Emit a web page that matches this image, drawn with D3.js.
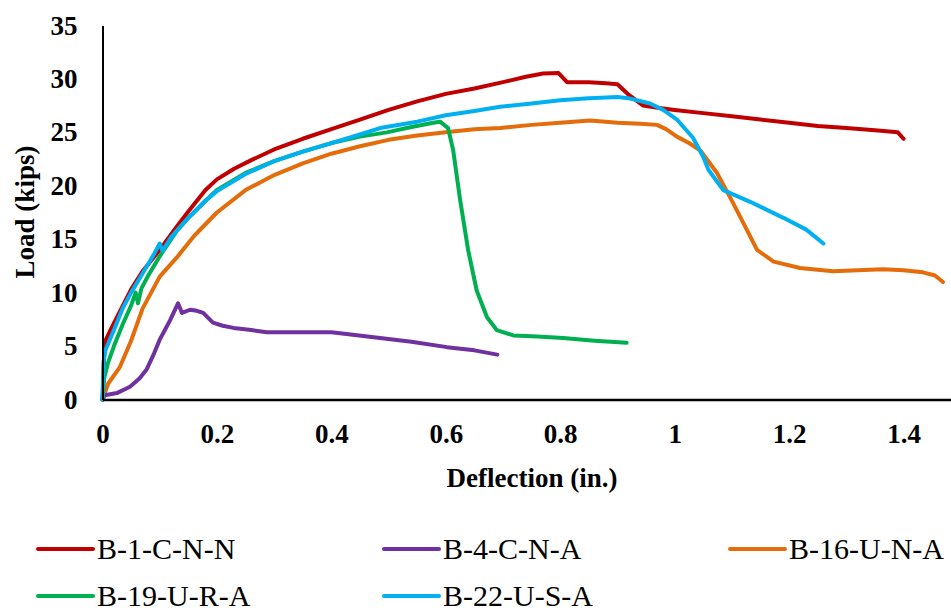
<!DOCTYPE html>
<html><head><meta charset="utf-8">
<script src="https://cdn.jsdelivr.net/npm/d3@7"></script>
<style>body{margin:0;background:#fff}svg{display:block}</style>
</head><body>
<svg id="c" width="951" height="611"></svg>
<script>
const seriesNames = ["B-1-C-N-N","B-4-C-N-A","B-16-U-N-A","B-19-U-R-A","B-22-U-S-A"];
const seriesColors = ["#C00000","#7030A0","#E46C0A","#00B050","#00B0F0"];
const xTicks = [0,0.2,0.4,0.6,0.8,1,1.2,1.4];
const yTicks = [0,5,10,15,20,25,30,35];

// [deflection (in.), load (kips)]
const b1 = [[0,0],[0.003,4.5],[0.006,5.6],[0.015,6.6],[0.03,8.2],[0.05,10.3],[0.07,12.0],[0.1,14.0],[0.13,16.2],[0.15,17.6],[0.18,19.6],[0.2,20.6],[0.23,21.6],[0.26,22.4],[0.3,23.4],[0.35,24.4],[0.4,25.3],[0.45,26.2],[0.5,27.1],[0.55,27.9],[0.6,28.6],[0.65,29.1],[0.7,29.7],[0.74,30.2],[0.77,30.5],[0.797,30.55],[0.812,29.7],[0.85,29.7],[0.88,29.6],[0.9,29.5],[0.92,28.5],[0.945,27.5],[0.97,27.3],[1.0,27.1],[1.05,26.8],[1.1,26.5],[1.15,26.2],[1.2,25.9],[1.25,25.6],[1.3,25.4],[1.35,25.2],[1.39,25.0],[1.4,24.4]];
const b4 = [[0,0],[0.004,0.4],[0.025,0.6],[0.048,1.2],[0.065,2.0],[0.077,2.8],[0.09,4.3],[0.1,5.6],[0.11,6.6],[0.118,7.4],[0.132,9.0],[0.139,8.1],[0.153,8.4],[0.165,8.3],[0.176,8.1],[0.193,7.2],[0.21,6.9],[0.229,6.7],[0.26,6.5],[0.287,6.3],[0.33,6.3],[0.375,6.3],[0.4,6.3],[0.43,6.1],[0.485,5.75],[0.54,5.4],[0.602,4.9],[0.65,4.6],[0.69,4.2]];
const b16 = [[0,0],[0.01,1.5],[0.03,3.0],[0.05,5.5],[0.07,8.5],[0.1,11.5],[0.13,13.3],[0.16,15.3],[0.2,17.5],[0.25,19.6],[0.3,21.0],[0.35,22.1],[0.4,23.0],[0.45,23.7],[0.5,24.3],[0.55,24.7],[0.6,25.0],[0.65,25.3],[0.695,25.4],[0.75,25.7],[0.8,25.9],[0.852,26.1],[0.9,25.9],[0.94,25.8],[0.969,25.7],[0.985,25.3],[1.004,24.6],[1.025,24.0],[1.045,23.3],[1.074,21.2],[1.102,18.4],[1.126,15.9],[1.144,14.0],[1.173,12.9],[1.219,12.3],[1.277,12.0],[1.32,12.1],[1.364,12.2],[1.4,12.1],[1.434,11.9],[1.455,11.6],[1.469,11.0]];
const b19 = [[0,0],[0.003,2.0],[0.01,3.5],[0.02,5.0],[0.035,7.0],[0.05,8.8],[0.058,10.0],[0.062,9.0],[0.068,10.4],[0.08,11.6],[0.1,13.4],[0.13,15.8],[0.15,17.0],[0.18,18.6],[0.2,19.6],[0.25,21.2],[0.3,22.3],[0.35,23.2],[0.4,24.0],[0.45,24.6],[0.497,25.0],[0.54,25.5],[0.578,25.9],[0.59,26.0],[0.604,25.4],[0.613,23.3],[0.625,18.7],[0.639,14.0],[0.654,10.2],[0.672,7.7],[0.689,6.5],[0.718,6.0],[0.76,5.9],[0.805,5.75],[0.86,5.5],[0.916,5.3]];
const b22 = [[0,0],[0.002,3.5],[0.005,4.6],[0.02,6.5],[0.035,8.5],[0.05,10.0],[0.07,11.8],[0.09,13.6],[0.1,14.6],[0.105,13.9],[0.12,15.2],[0.15,17.0],[0.18,18.6],[0.2,19.5],[0.25,21.1],[0.3,22.3],[0.35,23.2],[0.4,24.0],[0.45,24.8],[0.485,25.4],[0.55,26.0],[0.6,26.6],[0.65,27.0],[0.695,27.4],[0.75,27.7],[0.8,28.0],[0.85,28.2],[0.9,28.3],[0.919,28.2],[0.957,27.7],[0.98,27.1],[1.004,26.2],[1.032,24.5],[1.05,22.7],[1.059,21.5],[1.085,19.6],[1.132,18.5],[1.19,17.0],[1.23,15.9],[1.26,14.6]];
const seriesData = [b1,b4,b16,b19,b22];

const svg = d3.select("#c");
const serif = "'Liberation Serif','Times New Roman',serif";
const x = d3.scaleLinear().domain([0,1.483]).range([102.5,951]);
const y = d3.scaleLinear().domain([0,35]).range([399.5,25.5]);

const line = d3.line().x(d=>x(d[0])).y(d=>y(d[1]));
const order = [2,1,0,3,4];
order.forEach(i=>{
  svg.append("path").datum(seriesData[i]).attr("d",line)
    .attr("fill","none").attr("stroke",seriesColors[i]).attr("stroke-width",4)
    .attr("stroke-linejoin","round").attr("stroke-linecap","round");
});

const yAxis = d3.axisLeft(y).tickValues(yTicks).tickSize(0).tickPadding(25).tickFormat(d3.format("d"));
const gy = svg.append("g").attr("transform",`translate(${x(0)},0)`).call(yAxis);
gy.select(".domain").attr("stroke","#000").attr("stroke-width",2);
gy.selectAll("text").attr("font-family",serif).attr("font-weight","bold").attr("font-size",27).attr("fill","#000");

const xAxis = d3.axisBottom(x).tickValues(xTicks).tickSize(0).tickPadding(24).tickFormat(d=>d===0?"0":(d===1?"1":d3.format(".1f")(d)));
const gx = svg.append("g").attr("transform",`translate(0,${y(0)})`).call(xAxis);
gx.select(".domain").attr("stroke","#000").attr("stroke-width",2.5);
gx.selectAll("text").attr("font-family",serif).attr("font-weight","bold").attr("font-size",27).attr("fill","#000");

svg.append("text").attr("x",532).attr("y",487).attr("text-anchor","middle")
  .attr("font-family",serif).attr("font-weight","bold").attr("font-size",27).text("Deflection (in.)");
svg.append("text").attr("transform","translate(34,212) rotate(-90)").attr("text-anchor","middle")
  .attr("font-family",serif).attr("font-weight","bold").attr("font-size",27).text("Load (kips)");

const legX = [38,384,730,38,384];
const legY = [549,549,549,596,596];
seriesNames.forEach((n,i)=>{
  const g = svg.append("g").attr("transform",`translate(${legX[i]},${legY[i]})`);
  g.append("line").attr("x1",0).attr("x2",55).attr("y1",0).attr("y2",0)
    .attr("stroke",seriesColors[i]).attr("stroke-width",4).attr("stroke-linecap","round");
  g.append("text").attr("x",59).attr("y",10).attr("font-family",serif).attr("font-size",30).text(n);
});
</script>
</body></html>
